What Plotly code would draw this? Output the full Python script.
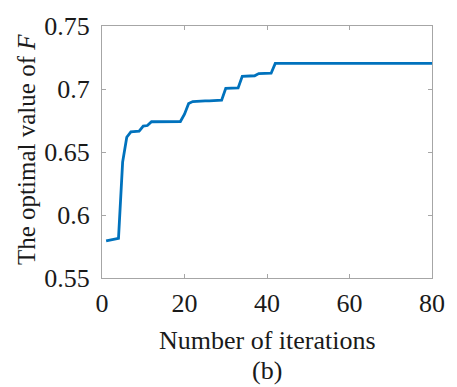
import plotly.graph_objects as go

# Best objective value found after each iteration
iterations = list(range(1, 81))
best_F = [
    0.5795, 0.5800, 0.5810, 0.5815, 0.6420, 0.6617, 0.6660, 0.6662, 0.6665, 0.6705,
    0.6710, 0.6740, 0.6741, 0.6741, 0.6741, 0.6741, 0.6742, 0.6742, 0.6742, 0.6800,
    0.6885, 0.6900, 0.6903, 0.6905, 0.6905, 0.6906, 0.6906, 0.6907, 0.6912, 0.7005,
    0.7005, 0.7006, 0.7008, 0.7100, 0.7102, 0.7104, 0.7105, 0.7122, 0.7123, 0.7124,
    0.7125, 0.7203, 0.7203, 0.7203, 0.7203, 0.7203, 0.7203, 0.7203, 0.7203, 0.7203,
    0.7203, 0.7203, 0.7203, 0.7203, 0.7203, 0.7203, 0.7203, 0.7203, 0.7203, 0.7203,
    0.7203, 0.7203, 0.7203, 0.7203, 0.7203, 0.7203, 0.7203, 0.7203, 0.7203, 0.7203,
    0.7203, 0.7203, 0.7203, 0.7203, 0.7203, 0.7203, 0.7203, 0.7203, 0.7203, 0.7203,
]

x_ticks = [0, 20, 40, 60, 80]
y_ticks = [0.55, 0.6, 0.65, 0.7, 0.75]
y_tick_text = ["0.55", "0.6", "0.65", "0.7", "0.75"]

FONT = "Liberation Serif"
TEXT_COLOR = "#1a1a1a"
AXIS_GREY = "#a6a6a6"
tick_font = dict(family=FONT, size=26, color=TEXT_COLOR)

fig = go.Figure()
fig.add_trace(go.Scatter(
    x=iterations, y=best_F, mode="lines",
    line=dict(color="#0072BD", width=2.8),
    showlegend=False,
))


def axis_style(**extra):
    style = dict(
        showline=True, linecolor=AXIS_GREY, linewidth=1,
        mirror="ticks", ticks="inside", ticklen=4, tickcolor=AXIS_GREY,
        showgrid=False, zeroline=False, tickfont=tick_font,
    )
    style.update(extra)
    return style


fig.update_layout(
    width=457, height=387,
    margin=dict(l=102, r=18, t=22, b=109),
    paper_bgcolor="white", plot_bgcolor="white",
    font=dict(family=FONT, size=26, color=TEXT_COLOR),
    xaxis=axis_style(range=[0, 80], tickmode="array", tickvals=x_ticks,
                     ticklabelstandoff=2),
    yaxis=axis_style(range=[0.55, 0.75], tickmode="array", tickvals=y_ticks,
                     ticktext=y_tick_text, ticklabelstandoff=6),
)

fig.add_annotation(
    text="Number of iterations", xref="paper", yref="paper", x=0.5, y=0,
    yshift=-62, showarrow=False, yanchor="middle",
    font=dict(family=FONT, size=26, color=TEXT_COLOR),
)
fig.add_annotation(
    text="(b)", xref="paper", yref="paper", x=0.5, y=0,
    yshift=-92, showarrow=False, yanchor="middle",
    font=dict(family=FONT, size=26, color=TEXT_COLOR),
)
fig.add_annotation(
    text="The optimal value of <i>F</i>", xref="paper", yref="paper", x=0, y=0.5,
    xshift=-76, yshift=2, showarrow=False, textangle=-90, xanchor="center",
    font=dict(family=FONT, size=25, color=TEXT_COLOR),
)

fig.write_html("out.html")
